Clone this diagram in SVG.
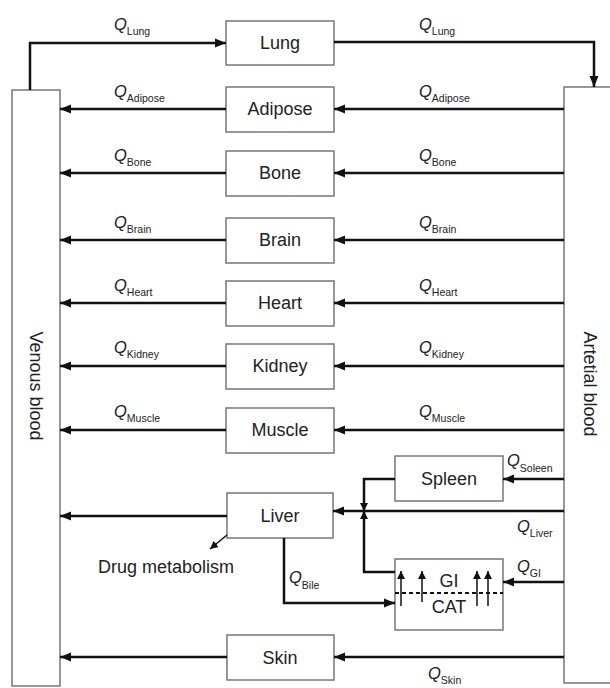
<svg xmlns="http://www.w3.org/2000/svg" width="610" height="688" viewBox="0 0 610 688">
<style>
.box{fill:#fff;stroke:#777;stroke-width:1.5}
.lbl{font-family:"Liberation Sans",Arial,sans-serif;font-size:18px;fill:#222;text-anchor:middle}
.q{font-family:"Liberation Sans",Arial,sans-serif;font-size:16.5px;font-style:italic;fill:#222}
.s{font-size:10.5px;font-style:normal}
.c{fill:none;stroke:#111;stroke-width:2.5}
.t{fill:none;stroke:#111;stroke-width:1.5}
.a{marker-end:url(#ah)}
</style>
<defs>
<marker id="ah" markerUnits="userSpaceOnUse" markerWidth="12" markerHeight="10" refX="11" refY="5" orient="auto"><path d="M0,0.5 L11,5 L0,9.5 z" fill="#111"/></marker>
<marker id="sm" markerUnits="userSpaceOnUse" markerWidth="9" markerHeight="8" refX="8" refY="4" orient="auto"><path d="M0,0 L8,4 L0,8 z" fill="#111"/></marker>
</defs>
<rect width="610" height="688" fill="#fff"/>
<g id="venous"><rect class="box" x="12" y="90" width="48" height="596"/><text class="lbl" transform="translate(36,386) rotate(90)" dominant-baseline="central">Venous blood</text></g>
<g id="arterial"><rect class="box" x="564" y="87" width="60" height="596"/><text class="lbl" transform="translate(590,384) rotate(90)" dominant-baseline="central">Artetial blood</text></g>
<g id="lung"><rect class="box" x="226" y="21" width="108" height="44"/><text class="lbl" x="280" y="49">Lung</text></g>
<g id="adipose"><rect class="box" x="226" y="87" width="108" height="45"/><text class="lbl" x="280" y="115">Adipose</text></g>
<g id="bone"><rect class="box" x="226" y="151" width="108" height="45"/><text class="lbl" x="280" y="179">Bone</text></g>
<g id="brain"><rect class="box" x="226" y="218" width="108" height="45"/><text class="lbl" x="280" y="246">Brain</text></g>
<g id="heart"><rect class="box" x="226" y="281" width="108" height="45"/><text class="lbl" x="280" y="309">Heart</text></g>
<g id="kidney"><rect class="box" x="226" y="344" width="108" height="45"/><text class="lbl" x="280" y="372">Kidney</text></g>
<g id="muscle"><rect class="box" x="226" y="408" width="108" height="45"/><text class="lbl" x="280" y="436">Muscle</text></g>
<g id="liver"><rect class="box" x="227" y="493" width="106" height="45"/><text class="lbl" x="280" y="522">Liver</text></g>
<g id="spleen"><rect class="box" x="395" y="456" width="108" height="45"/><text class="lbl" x="449" y="485">Spleen</text></g>
<g id="gi"><rect class="box" x="395" y="559" width="108" height="71"/><text class="lbl" x="449" y="587">GI</text><text class="lbl" x="449" y="613">CAT</text>
<line x1="395" y1="593" x2="503" y2="593" stroke="#111" stroke-width="1.8" stroke-dasharray="4,3"/>
<g class="t" marker-end="url(#sm)"><line x1="401" y1="606" x2="401" y2="571"/><line x1="422" y1="602" x2="422" y2="571"/><line x1="477" y1="606" x2="477" y2="571"/><line x1="488" y1="606" x2="488" y2="571"/></g></g>
<g id="skin"><rect class="box" x="227" y="635" width="107" height="45"/><text class="lbl" x="280" y="664">Skin</text></g>
<g id="metab"><text class="lbl" x="166" y="573">Drug metabolism</text></g>
<g id="connectors">
<polyline class="c a" points="30,90 30,43 226,43"/>
<polyline class="c a" points="334,42 594,42 594,87"/>
<line class="c a" x1="226" y1="109" x2="60" y2="109"/><line class="c a" x1="564" y1="109" x2="334" y2="109"/>
<line class="c a" x1="226" y1="173" x2="60" y2="173"/><line class="c a" x1="564" y1="173" x2="334" y2="173"/>
<line class="c a" x1="226" y1="240" x2="60" y2="240"/><line class="c a" x1="564" y1="240" x2="334" y2="240"/>
<line class="c a" x1="226" y1="303" x2="60" y2="303"/><line class="c a" x1="564" y1="303" x2="334" y2="303"/>
<line class="c a" x1="226" y1="366" x2="60" y2="366"/><line class="c a" x1="564" y1="366" x2="334" y2="366"/>
<line class="c a" x1="226" y1="430" x2="60" y2="430"/><line class="c a" x1="564" y1="430" x2="334" y2="430"/>
<line class="c a" x1="227" y1="516" x2="60" y2="516"/>
<line class="c a" x1="564" y1="479" x2="503" y2="479"/>
<line class="c a" x1="564" y1="511" x2="333" y2="511"/>
<line class="c a" x1="564" y1="582" x2="503" y2="582"/>
<line class="c a" x1="564" y1="657" x2="334" y2="657"/>
<line class="c a" x1="227" y1="657" x2="60" y2="657"/>
<polyline class="c" points="395,479 364,479 364,511" marker-end="url(#sm)"/>
<polyline class="c" points="395,572 364,572 364,511" marker-end="url(#sm)"/>
<polyline class="c a" points="284,538 284,603 395,603"/>
<line class="t" x1="227" y1="535" x2="210" y2="549" marker-end="url(#sm)"/>
</g>
<g id="labels">
<text class="q" x="114" y="30">Q<tspan class="s" dy="5">Lung</tspan></text>
<text class="q" x="419" y="30">Q<tspan class="s" dy="5">Lung</tspan></text>
<text class="q" x="114" y="97">Q<tspan class="s" dy="5">Adipose</tspan></text>
<text class="q" x="419" y="97">Q<tspan class="s" dy="5">Adipose</tspan></text>
<text class="q" x="114" y="161">Q<tspan class="s" dy="5">Bone</tspan></text>
<text class="q" x="419" y="161">Q<tspan class="s" dy="5">Bone</tspan></text>
<text class="q" x="114" y="228">Q<tspan class="s" dy="5">Brain</tspan></text>
<text class="q" x="419" y="228">Q<tspan class="s" dy="5">Brain</tspan></text>
<text class="q" x="114" y="291">Q<tspan class="s" dy="5">Heart</tspan></text>
<text class="q" x="419" y="291">Q<tspan class="s" dy="5">Heart</tspan></text>
<text class="q" x="114" y="353">Q<tspan class="s" dy="5">Kidney</tspan></text>
<text class="q" x="419" y="353">Q<tspan class="s" dy="5">Kidney</tspan></text>
<text class="q" x="114" y="417">Q<tspan class="s" dy="5">Muscle</tspan></text>
<text class="q" x="419" y="417">Q<tspan class="s" dy="5">Muscle</tspan></text>
<text class="q" x="507" y="466">Q<tspan class="s" dy="6">Soleen</tspan></text>
<text class="q" x="517" y="532">Q<tspan class="s" dy="5">Liver</tspan></text>
<text class="q" x="517" y="572">Q<tspan class="s" dy="5">GI</tspan></text>
<text class="q" x="289" y="583">Q<tspan class="s" dy="6">Bile</tspan></text>
<text class="q" x="428" y="679">Q<tspan class="s" dy="5">Skin</tspan></text>
</g>
</svg>
